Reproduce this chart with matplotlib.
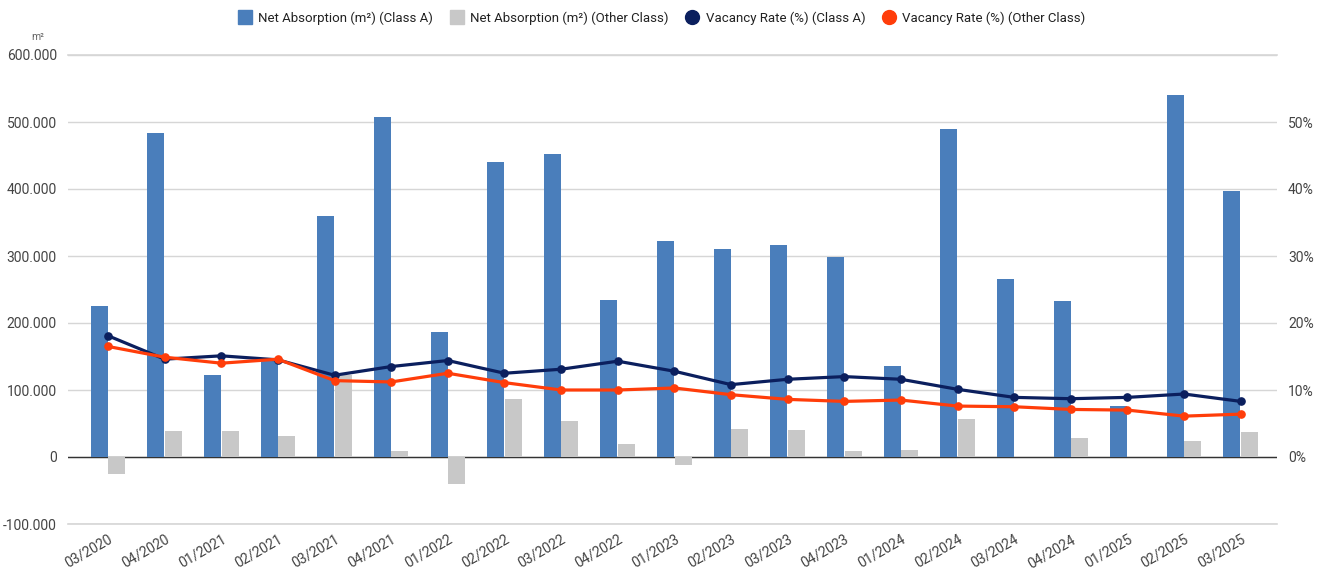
import matplotlib
matplotlib.use("Agg")
import matplotlib.pyplot as plt
from matplotlib.lines import Line2D
from matplotlib.ticker import FuncFormatter
import numpy as np

plt.rcParams['font.family'] = ['Roboto', 'DejaVu Sans']

quarters = ["03/2020", "04/2020", "01/2021", "02/2021", "03/2021", "04/2021", "01/2022",
            "02/2022", "03/2022", "04/2022", "01/2023", "02/2023", "03/2023", "04/2023",
            "01/2024", "02/2024", "03/2024", "04/2024", "01/2025", "02/2025", "03/2025"]

absorption_class_a = [226000, 483000, 122000, 144000, 359000, 507000, 187000,
                      440000, 452000, 235000, 323000, 310000, 316000, 298000,
                      136000, 489000, 265000, 233000, 76000, 540000, 397000]

absorption_other = [-26000, 39000, 39000, 32000, 122000, 9500, -40000,
                    86000, 54000, 19000, -12000, 42000, 41000, 9500,
                    11000, 56000, 500, 29000, 500, 24500, 37000]

vacancy_class_a = [18.1, 14.6, 15.1, 14.5, 12.2, 13.5, 14.4,
                   12.5, 13.1, 14.3, 12.8, 10.8, 11.6, 12.0,
                   11.6, 10.1, 8.9, 8.7, 8.9, 9.4, 8.3]

vacancy_other = [16.5, 14.9, 14.0, 14.6, 11.4, 11.2, 12.5,
                 11.1, 10.0, 10.0, 10.3, 9.3, 8.6, 8.3,
                 8.5, 7.6, 7.5, 7.1, 7.0, 6.1, 6.4]

left_ticks = [-100000, 0, 100000, 200000, 300000, 400000, 500000, 600000]
right_ticks = [0, 10, 20, 30, 40, 50]

BLUE = "#4a7ebb"
GRAY = "#c8c8c8"
NAVY = "#0b1f5e"
RED = "#ff3d0a"
TXT = "#444444"
GRID = "#d6d6d6"

W, H = 1322, 571
fig = plt.figure(figsize=(W / 100, H / 100), dpi=100)
ax_l, ax_r, ax_b, ax_t = 68, 1277, 524, 55
ax = fig.add_axes([ax_l / W, 1 - ax_b / H, (ax_r - ax_l) / W, (ax_b - ax_t) / H])
ax2 = ax.twinx()

x = np.arange(len(quarters))
bw = 0.30
ax.bar(x - 0.155, absorption_class_a, bw, color=BLUE, zorder=2)
ax.bar(x + 0.155, absorption_other, bw, color=GRAY, zorder=2)

ax.set_ylim(-100000, 600000)
ax.set_xlim(-0.706, 20.64)
ax.set_yticks(left_ticks)
ax.yaxis.set_major_formatter(FuncFormatter(lambda v, p: f"{int(v):,}".replace(",", ".")))
ax.grid(axis='y', color=GRID, linewidth=1, zorder=0)
ax.set_axisbelow(True)
ax.axhline(0, color="#333333", linewidth=1, zorder=1.5)
for yv in (left_ticks[0], left_ticks[-1]):
    ax.axhline(yv, color=GRID, linewidth=1.2, zorder=0.5, clip_on=False)
ax.tick_params(axis='y', length=0, pad=8, labelsize=10, labelcolor=TXT)
ax.set_xticks(x)
ax.set_xticklabels(quarters, rotation=30, ha='right', rotation_mode='anchor')
ax.tick_params(axis='x', length=0, pad=6, labelsize=10, labelcolor=TXT)
for s in ax.spines.values():
    s.set_visible(False)

ax2.plot(x, vacancy_class_a, color=NAVY, linewidth=2.3, marker='o', markersize=5.2, zorder=3)
ax2.plot(x, vacancy_other, color=RED, linewidth=2.3, marker='o', markersize=5.2, zorder=4)
ax2.set_ylim(-10, 60)
ax2.set_yticks(right_ticks)
ax2.yaxis.set_major_formatter(FuncFormatter(lambda v, p: f"{int(v)}%"))
ax2.tick_params(axis='y', length=0, pad=8, labelsize=10, labelcolor=TXT)
for s in ax2.spines.values():
    s.set_visible(False)

fig.text(38 / W, 1 - 37 / H, "m²", fontsize=7.5, color="#666666", ha='center', va='center')

handles = [
    Line2D([], [], marker='s', linestyle='none', markersize=10, color=BLUE),
    Line2D([], [], marker='s', linestyle='none', markersize=10, color=GRAY),
    Line2D([], [], marker='o', linestyle='none', markersize=10, color=NAVY),
    Line2D([], [], marker='o', linestyle='none', markersize=10, color=RED),
]
labels = ["Net Absorption (m²) (Class A)", "Net Absorption (m²) (Other Class)",
          "Vacancy Rate (%) (Class A)", "Vacancy Rate (%) (Other Class)"]
fig.legend(handles, labels, loc='center', bbox_to_anchor=(662 / W, 1 - 18 / H), ncol=4,
           frameon=False, fontsize=9.5, handletextpad=0.5, columnspacing=1.3,
           labelcolor="#222222", handlelength=1.0)

fig.savefig("out.png", dpi=100)
